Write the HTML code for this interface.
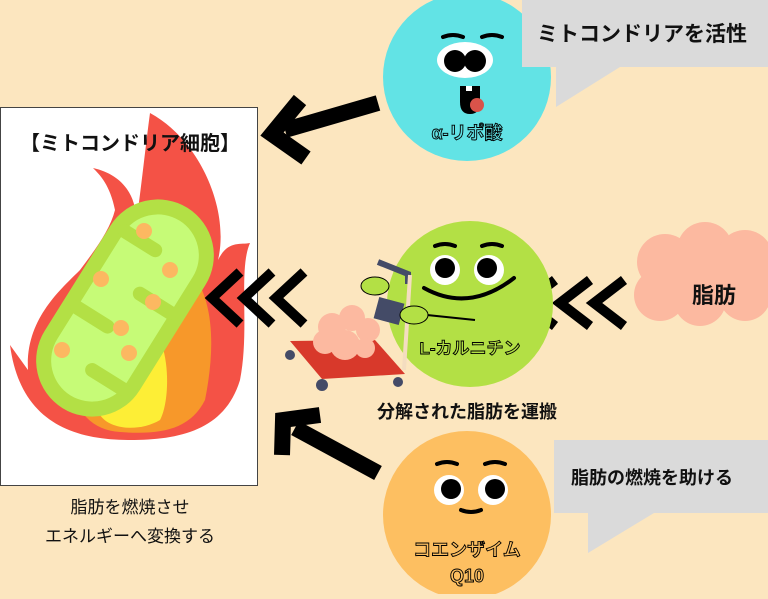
<!DOCTYPE html>
<html><head><meta charset="utf-8"><style>
body{margin:0;width:768px;height:594px;overflow:hidden;background:#fce6bf;font-family:"Liberation Sans","Noto Sans CJK JP",sans-serif}
</style></head><body>
<svg width="768" height="594" viewBox="0 0 768 594" xmlns="http://www.w3.org/2000/svg" font-family="Liberation Sans, Noto Sans CJK JP, sans-serif">
<rect width="768" height="594" fill="#fce6bf"/>
<rect x="0.5" y="107.5" width="257" height="378" fill="#fff" stroke="#444" stroke-width="1"/>
<path d="M150,113 C200,140 230,210 218,260 C228,240 240,245 250,243 C238,270 250,330 240,380 C225,430 180,440 130,440 C70,440 20,420 10,345 L28,370 C25,320 60,290 80,270 C95,250 110,230 115,210 C110,185 100,175 93,168 C125,175 140,200 135,230 C140,200 145,150 150,113 Z" fill="#f45246"/>
<path d="M70,330 C90,290 150,270 190,270 C215,300 215,350 205,400 C190,430 160,435 120,432 C80,430 60,390 70,330 Z" fill="#f7982a"/>
<path d="M100,370 C120,340 150,330 162,345 C170,370 168,405 160,420 C140,432 110,430 100,415 Z" fill="#fdee36"/>
<g transform="translate(125,308) rotate(-58)">
<rect x="-118" y="-56" width="236" height="112" rx="56" fill="#b3e045"/>
<rect x="-103" y="-41" width="206" height="82" rx="41" fill="#c6fb77"/>
<g stroke="#b3e045" stroke-width="14" stroke-linecap="round">
<line x1="-70" y1="41" x2="-70" y2="5"/><line x1="-25" y1="-41" x2="-25" y2="-5"/>
<line x1="20" y1="41" x2="20" y2="5"/><line x1="65" y1="-41" x2="65" y2="-5"/>
</g></g>
<g fill="#fcb861"><circle cx="144" cy="231" r="8"/><circle cx="170" cy="270" r="8"/><circle cx="101" cy="279" r="8"/><circle cx="153" cy="302" r="8"/><circle cx="121" cy="328" r="8"/><circle cx="129" cy="353" r="8"/><circle cx="62" cy="350" r="8"/></g>
<text x="130" y="150" font-size="20" font-weight="bold" text-anchor="middle" fill="#111">【ミトコンドリア細胞】</text>
<text x="130" y="513" font-size="17" text-anchor="middle" fill="#111">脂肪を燃焼させ</text>
<text x="130" y="542" font-size="17" text-anchor="middle" fill="#111">エネルギーへ変換する</text>
<g fill="none" stroke="#000" stroke-width="10">
<polyline points="240,272 212,298 240,324"/><polyline points="272,272 244,298 272,324"/><polyline points="304,272 276,298 304,324"/>
<polyline points="555,280 525,303 555,326"/><polyline points="590,280 560,303 590,326"/><polyline points="624,280 594,303 624,326"/>
</g>
<g stroke="#000" stroke-width="16" fill="none">
<line x1="378" y1="103" x2="285" y2="130"/><polyline points="300,100 272,134 306,158"/>
<line x1="378" y1="473" x2="295" y2="428"/><polyline points="282,455 283,420 320,415"/>
</g>
<circle cx="467" cy="77" r="84" fill="#62e3e5"/>
<path d="M443,37 q10,-4 20,0 M482,37 q10,-4 20,0" stroke="#000" stroke-width="4" fill="none" stroke-linecap="round"/>
<ellipse cx="465" cy="60" rx="28" ry="18" fill="#fff"/>
<circle cx="455" cy="61" r="11" fill="#000"/><circle cx="475" cy="61" r="11" fill="#000"/>
<path d="M460,86 h20 v16 q0,12 -10,12 q-10,0 -10,-12 Z" fill="#000"/>
<rect x="466" y="86" width="6" height="5" fill="#fff"/>
<circle cx="477" cy="105" r="7" fill="#d9534a"/>
<text x="467" y="139" font-size="18" font-weight="bold" text-anchor="middle" fill="#62e3e5" stroke="#000" stroke-width="0.9">α-リポ酸</text>
<path d="M522,0 H768 V67 H620 L556,107 V67 H522 Z" fill="#dadada"/>
<text x="537" y="41" font-size="21" font-weight="bold" fill="#111">ミトコンドリアを活性</text>
<circle cx="470" cy="304" r="83" fill="#b3e045"/>
<path d="M435,246 q10,-4 20,0 M482,246 q10,-4 20,0" stroke="#000" stroke-width="4" fill="none" stroke-linecap="round"/>
<circle cx="445" cy="270" r="15" fill="#fff"/><circle cx="489" cy="270" r="15" fill="#fff"/>
<circle cx="445" cy="268" r="10" fill="#000"/><circle cx="487" cy="268" r="10" fill="#000"/>
<path d="M424,288 q45,25 90,-10" stroke="#000" stroke-width="4" fill="none" stroke-linecap="round"/>
<line x1="427" y1="315" x2="475" y2="320" stroke="#000" stroke-width="2"/>
<path d="M378,262 l30,12 v10" stroke="#444b67" stroke-width="6" fill="none"/>
<line x1="410" y1="275" x2="404" y2="370" stroke="#f4ddc0" stroke-width="4"/>
<rect x="376" y="300" width="26" height="22" fill="#444b67" transform="rotate(15 389 311)"/>
<ellipse cx="375" cy="286" rx="14" ry="9" fill="#b3e045" stroke="#000" stroke-width="1"/>
<ellipse cx="414" cy="315" rx="14" ry="9" fill="#b3e045" stroke="#000" stroke-width="1"/>
<path d="M290,341 L375,340 L405,374 L322,379 Z" fill="#d8392b"/>
<g fill="#444b67"><circle cx="290" cy="355" r="5"/><circle cx="322" cy="385" r="6"/><circle cx="398" cy="382" r="5"/></g>
<g fill="#fcb9a0"><circle cx="332" cy="327" r="14"/><circle cx="352" cy="318" r="13"/><circle cx="368" cy="330" r="12"/><circle cx="345" cy="345" r="15"/><circle cx="325" cy="342" r="12"/><circle cx="365" cy="348" r="10"/></g>
<text x="470" y="354" font-size="17" font-weight="bold" text-anchor="middle" fill="#b3e045" stroke="#000" stroke-width="0.9">L-カルニチン</text>
<text x="467" y="418" font-size="18" font-weight="bold" text-anchor="middle" fill="#111">分解された脂肪を運搬</text>
<g fill="#fcb9a0"><circle cx="665" cy="262" r="28"/><circle cx="705" cy="250" r="28"/><circle cx="745" cy="258" r="28"/><circle cx="660" cy="295" r="26"/><circle cx="700" cy="300" r="26"/><circle cx="745" cy="295" r="26"/><rect x="650" y="255" width="118" height="50"/></g>
<text x="714" y="303" font-size="22" font-weight="bold" text-anchor="middle" fill="#111">脂肪</text>
<circle cx="467" cy="515" r="84" fill="#fdbf61"/>
<path d="M437,464 q10,-4 20,0 M485,464 q10,-4 20,0" stroke="#000" stroke-width="4" fill="none" stroke-linecap="round"/>
<circle cx="449" cy="490" r="15" fill="#fff"/><circle cx="493" cy="490" r="15" fill="#fff"/>
<circle cx="451" cy="489" r="10" fill="#000"/><circle cx="495" cy="489" r="10" fill="#000"/>
<path d="M461,510 q10,4 20,0" stroke="#000" stroke-width="4" fill="none" stroke-linecap="round"/>
<text x="467" y="556" font-size="18" font-weight="bold" text-anchor="middle" fill="#fdbf61" stroke="#000" stroke-width="0.9">コエンザイム</text>
<text x="467" y="582" font-size="18" font-weight="bold" text-anchor="middle" fill="#fdbf61" stroke="#000" stroke-width="0.9">Q10</text>
<path d="M554,440 H768 V513 H654 L588,553 V513 H554 Z" fill="#dadada"/>
<text x="571" y="484" font-size="18" font-weight="bold" fill="#111">脂肪の燃焼を助ける</text>
</svg>
</body></html>
